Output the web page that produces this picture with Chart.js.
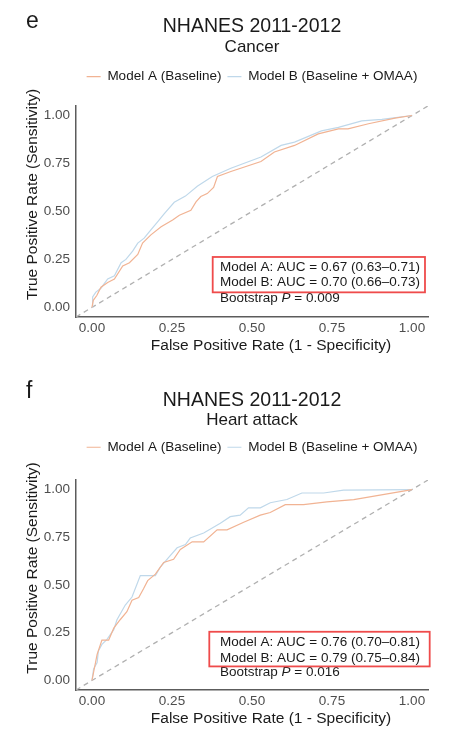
<!DOCTYPE html>
<html lang="en">
<head>
<meta charset="UTF-8">
<meta name="viewport" content="width=device-width, initial-scale=1.0">
<title>ROC curves - NHANES 2011-2012</title>
<script src="https://cdn.jsdelivr.net/npm/chart.js@4"></script>
<style>
  body { margin: 0; background: #fff; }
  .panel { position: relative; width: 467px; height: 368px; }
</style>
</head>
<body>
<div class="panel"><canvas id="chartE"></canvas></div>
<div class="panel"><canvas id="chartF"></canvas></div>
<script>
// tick labels on both axes
const axisTicks = [0, 0.25, 0.5, 0.75, 1];
const seriesNames = ['Model A (Baseline)', 'Model B (Baseline + OMAA)'];
// chance line, runs corner to corner of the padded range
const refLine = [-0.05, 1.05];

// Cancer, model A / model B
const cancerFprA = [0, 0.004, 0.015, 0.028, 0.049, 0.07, 0.096, 0.117, 0.143, 0.158, 0.184, 0.216, 0.252, 0.273, 0.309, 0.325, 0.34, 0.36, 0.38, 0.392, 0.434, 0.528, 0.57, 0.633, 0.707, 0.77, 0.8, 0.864, 0.947, 1];
const cancerTprA = [0, 0.037, 0.062, 0.105, 0.13, 0.148, 0.216, 0.233, 0.276, 0.335, 0.378, 0.42, 0.455, 0.48, 0.506, 0.55, 0.578, 0.593, 0.625, 0.682, 0.708, 0.76, 0.81, 0.844, 0.904, 0.93, 0.93, 0.957, 0.986, 1];
const cancerFprB = [0, 0.002, 0.012, 0.028, 0.049, 0.07, 0.091, 0.106, 0.127, 0.143, 0.163, 0.184, 0.205, 0.226, 0.257, 0.292, 0.329, 0.376, 0.434, 0.528, 0.591, 0.633, 0.717, 0.77, 0.843, 0.906, 1];
const cancerTprB = [0, 0.054, 0.08, 0.1, 0.148, 0.165, 0.233, 0.25, 0.293, 0.335, 0.361, 0.404, 0.446, 0.489, 0.548, 0.58, 0.631, 0.682, 0.725, 0.784, 0.844, 0.861, 0.92, 0.938, 0.972, 0.98, 1];
const cancerAuc = ['Model A: AUC = 0.67 (0.63\u20130.71)', 'Model B: AUC = 0.70 (0.66\u20130.73)'];
const cancerP = '0.009';

// Heart attack, model A / model B
const heartFprA = [0, 0.005, 0.016, 0.031, 0.052, 0.068, 0.088, 0.109, 0.125, 0.146, 0.161, 0.174, 0.198, 0.224, 0.255, 0.276, 0.313, 0.349, 0.391, 0.422, 0.474, 0.526, 0.557, 0.604, 0.661, 0.734, 0.818, 1];
const heartTprA = [0, 0.043, 0.137, 0.211, 0.211, 0.274, 0.318, 0.36, 0.42, 0.434, 0.48, 0.523, 0.557, 0.618, 0.635, 0.686, 0.726, 0.726, 0.789, 0.789, 0.829, 0.866, 0.88, 0.921, 0.921, 0.935, 0.947, 1];
const heartFprB = [0, 0.005, 0.016, 0.02, 0.031, 0.047, 0.068, 0.078, 0.104, 0.125, 0.151, 0.198, 0.213, 0.239, 0.266, 0.292, 0.307, 0.349, 0.401, 0.432, 0.463, 0.489, 0.526, 0.557, 0.609, 0.656, 0.724, 0.786, 1];
const heartTprB = [0, 0.06, 0.094, 0.154, 0.189, 0.215, 0.266, 0.318, 0.395, 0.437, 0.549, 0.549, 0.592, 0.643, 0.695, 0.712, 0.746, 0.772, 0.823, 0.858, 0.866, 0.904, 0.904, 0.931, 0.948, 0.982, 0.982, 0.997, 1];
const heartAuc = ['Model A: AUC = 0.76 (0.70\u20130.81)', 'Model B: AUC = 0.79 (0.75\u20130.84)'];
const heartP = '0.016';

const FONT = "'Liberation Sans', Arial, Helvetica, sans-serif";
const INK = '#1a1a1a';
Chart.defaults.font.family = FONT;
Chart.defaults.color = INK;

const toPoints = (xs, ys) => xs.map((x, i) => ({ x: x, y: ys[i] }));

function buildPanel(id, p) {
  // letter, axis titles and the AUC box
  const decor = {
    id: 'decor',
    afterDatasetsDraw(chart) {
      const ctx = chart.ctx, xs = chart.scales.x, ys = chart.scales.y;
      const tx = xs.getPixelForValue(p.noteX);
      const rows = p.noteY.map(v => ys.getPixelForValue(v));
      ctx.save();
      ctx.font = '13.5px ' + FONT;
      ctx.fillStyle = INK;
      ctx.textBaseline = 'middle';
      ctx.textAlign = 'left';
      let w = 0;
      p.auc.forEach((t, i) => {
        ctx.fillText(t, tx, rows[i]);
        w = Math.max(w, ctx.measureText(t).width);
      });
      // Bootstrap P line, P in italics
      let bx = tx;
      ctx.fillText('Bootstrap ', bx, rows[2]);
      bx += ctx.measureText('Bootstrap ').width;
      ctx.font = 'italic 13.5px ' + FONT;
      ctx.fillText('P', bx, rows[2]);
      bx += ctx.measureText('P').width;
      ctx.font = '13.5px ' + FONT;
      ctx.fillText(' = ' + p.pval, bx, rows[2]);
      // red box round the two AUC rows
      ctx.strokeStyle = '#ef4b4b';
      ctx.lineWidth = 1.8;
      ctx.strokeRect(tx - p.box[0], rows[0] - p.box[2], w + p.box[0] + p.box[1], rows[1] - rows[0] + p.box[2] + p.box[3]);
      ctx.restore();
    },
    afterDraw(chart) {
      const ctx = chart.ctx, a = chart.chartArea;
      ctx.save();
      ctx.fillStyle = INK;
      ctx.font = '23px ' + FONT;
      ctx.textBaseline = 'alphabetic';
      ctx.textAlign = 'left';
      ctx.fillText(p.letter, 26, p.letterY);
      ctx.font = '15.5px ' + FONT;
      ctx.textAlign = 'center';
      ctx.textBaseline = 'middle';
      ctx.fillText('False Positive Rate (1 - Specificity)', (a.left + a.right) / 2 + 19, a.bottom + 28.5);
      ctx.translate(33, (a.top + a.bottom) / 2 - 17);
      ctx.rotate(-Math.PI / 2);
      ctx.fillText('True Positive Rate (Sensitivity)', 0, 0);
      ctx.restore();
    }
  };

  const axisBase = {
    type: 'linear',
    min: refLine[0],
    max: refLine[1],
    grid: { display: false, drawTicks: false },
    border: { display: true, color: '#5c5c5c', width: 1.5 },
    afterBuildTicks: s => { s.ticks = axisTicks.map(v => ({ value: v })); },
    ticks: {
      color: '#4d4d4d',
      font: { size: 13.5 },
      callback: v => v.toFixed(2)
    }
  };

  return new Chart(document.getElementById(id), {
    type: 'line',
    data: {
      datasets: [{
        label: seriesNames[0],
        data: toPoints(p.fprA, p.tprA),
        borderColor: '#f1b393',
        backgroundColor: '#f1b393',
        borderWidth: 1.2,
        pointRadius: 0,
        fill: false
      }, {
        label: seriesNames[1],
        data: toPoints(p.fprB, p.tprB),
        borderColor: '#bfd8ea',
        backgroundColor: '#bfd8ea',
        borderWidth: 1.2,
        pointRadius: 0,
        fill: false
      }, {
        label: 'chance',
        data: toPoints(refLine, refLine),
        borderColor: '#b0b0b0',
        borderWidth: 1.3,
        borderDash: [5, 4],
        pointRadius: 0,
        fill: false
      }]
    },
    options: {
      responsive: true,
      maintainAspectRatio: false,
      animation: false,
      layout: { padding: { top: 0, left: 0, right: 39, bottom: 0 } },
      plugins: {
        tooltip: { enabled: false },
        title: {
          display: true,
          text: 'NHANES 2011-2012',
          fullSize: false,
          color: INK,
          font: { size: 19.5, weight: 'normal', lineHeight: 1.2 },
          padding: { top: p.titleTop, bottom: 0 }
        },
        subtitle: {
          display: true,
          text: p.subtitle,
          fullSize: false,
          color: INK,
          font: { size: 17, lineHeight: 1 },
          padding: { top: 0, bottom: p.subBottom }
        },
        legend: {
          display: true,
          fullSize: false,
          labels: {
            filter: item => item.datasetIndex < 2,
            usePointStyle: true,
            pointStyle: 'line',
            pointStyleWidth: 14,
            boxHeight: 8,
            padding: 6,
            color: INK,
            font: { size: 13.5 }
          }
        }
      },
      scales: {
        x: Object.assign({}, axisBase, {
          position: 'bottom',
          ticks: Object.assign({}, axisBase.ticks, { padding: 3 }),
          afterFit: s => { s.height = p.xHeight; }
        }),
        y: Object.assign({}, axisBase, {
          position: 'left',
          ticks: Object.assign({}, axisBase.ticks, { padding: 6 }),
          afterFit: s => { s.width = 76; }
        }),
        // empty band between legend and plot
        gap: {
          type: 'linear',
          position: 'top',
          display: true,
          grid: { display: false },
          border: { display: false },
          ticks: { display: false },
          afterFit: s => { s.height = p.gap; }
        }
      }
    },
    plugins: [decor]
  });
}

buildPanel('chartE', {
  letter: 'e', letterY: 28, subtitle: 'Cancer',
  titleTop: 15, subBottom: 8.5, gap: 12.5, xHeight: 51,
  fprA: cancerFprA, tprA: cancerTprA, fprB: cancerFprB, tprB: cancerTprB,
  auc: cancerAuc, pval: cancerP,
  noteX: 0.4, noteY: [0.207, 0.129, 0.047], box: [7.3, 5, 10.7, 9.7]
});

buildPanel('chartF', {
  letter: 'f', letterY: 30, subtitle: 'Heart attack',
  titleTop: 20.5, subBottom: 5.6, gap: 16, xHeight: 46,
  fprA: heartFprA, tprA: heartTprA, fprB: heartFprB, tprB: heartTprB,
  auc: heartAuc, pval: heartP,
  noteX: 0.4, noteY: [0.199, 0.117, 0.044], box: [10.7, 9.7, 10.7, 8.3]
});
</script>
</body>
</html>
